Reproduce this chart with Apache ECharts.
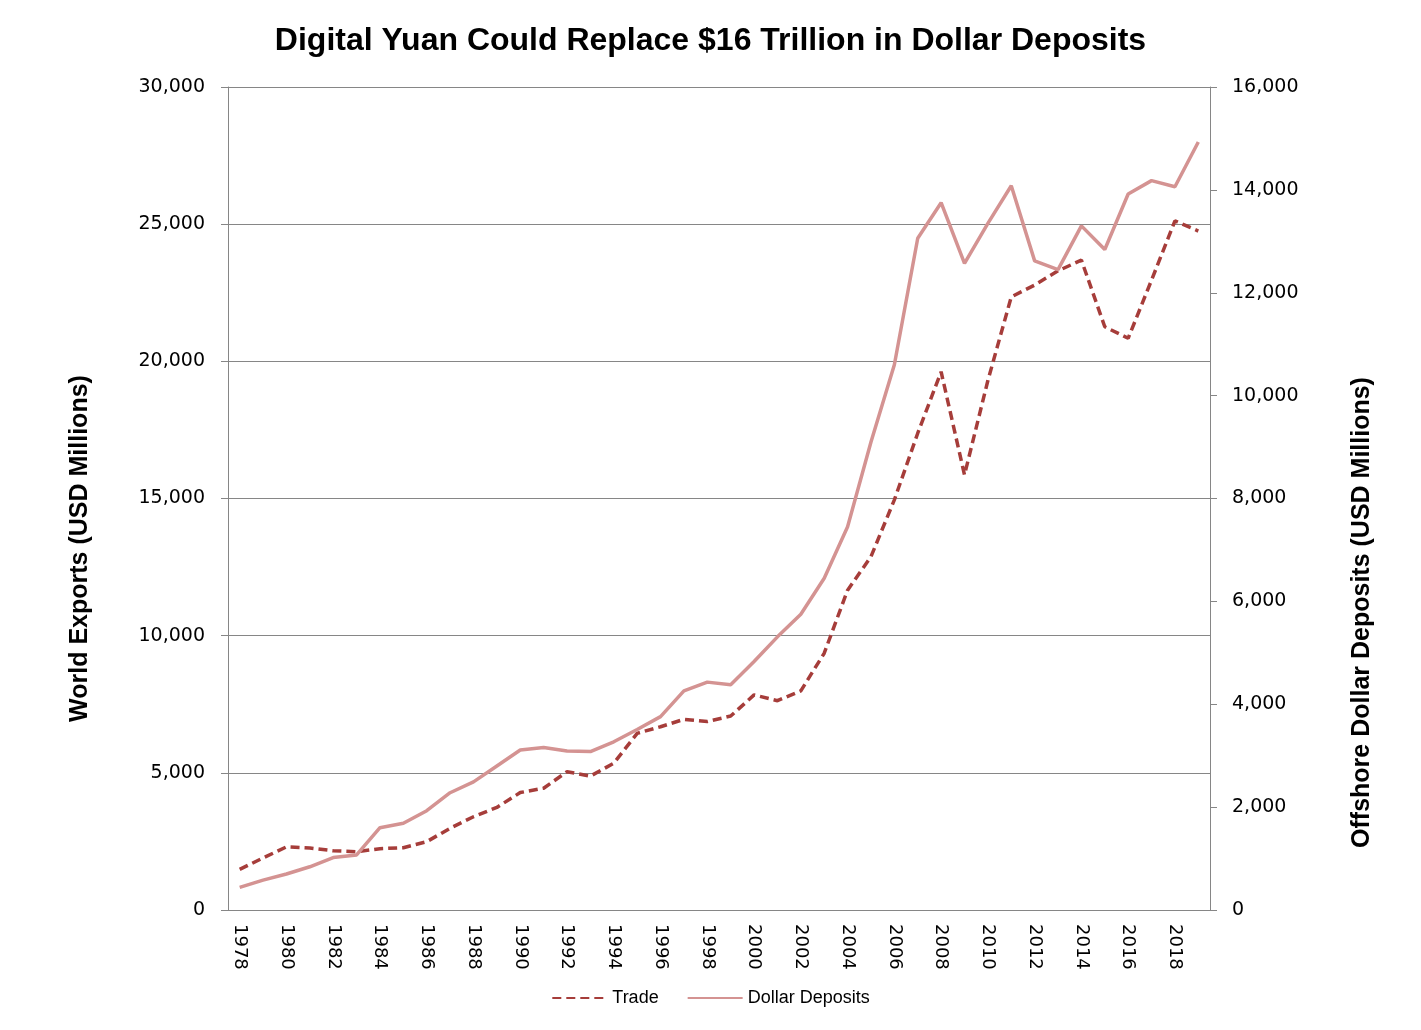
<!DOCTYPE html>
<html>
<head>
<meta charset="utf-8">
<script src="https://cdn.jsdelivr.net/npm/echarts@6/dist/echarts.min.js"></script>
<style>
html,body{margin:0;padding:0;background:#fff;}
#chart{width:1421px;height:1030px;}
</style>
</head>
<body>
<div id="chart"></div>
<script>
const years = ['1978','1979','1980','1981','1982','1983','1984','1985','1986','1987','1988','1989','1990','1991','1992','1993','1994','1995','1996','1997','1998','1999','2000','2001','2002','2003','2004','2005','2006','2007','2008','2009','2010','2011','2012','2013','2014','2015','2016','2017','2018','2019'];
const trade = [1480,1900,2300,2260,2160,2125,2235,2270,2490,2980,3400,3740,4280,4440,5040,4880,5350,6440,6680,6950,6870,7070,7840,7630,7990,9360,11660,12880,14950,17380,19620,15860,19300,22350,22780,23300,23690,21260,20840,22960,25120,24750];
const deposits = [440,580,700,840,1020,1070,1600,1685,1930,2280,2490,2800,3110,3160,3090,3080,3270,3510,3760,4260,4430,4380,4830,5310,5750,6450,7450,9100,10600,13060,13750,12570,13350,14080,12620,12450,13300,12840,13920,14180,14060,14930];
const leftTicks = {min:0, max:30000, interval:5000};
const rightTicks = {min:0, max:16000, interval:2000};

const chart = echarts.init(document.getElementById('chart'));
const tickFont = {fontFamily:'DejaVu Sans', fontSize:19, color:'#000'};
const nameFont = {fontFamily:'Liberation Sans', fontSize:25, fontWeight:'bold', color:'#000'};
const axisGray = '#868686';
chart.setOption({
  animation:false,
  title:{text:'Digital Yuan Could Replace $16 Trillion in Dollar Deposits', left:'center', top:20,
    textStyle:{fontFamily:'Liberation Sans', fontSize:32, fontWeight:'bold', color:'#000'}},
  legend:{bottom:18, left:'center', itemWidth:55, itemHeight:12, itemGap:28,
    itemStyle:{opacity:0},
    textStyle:{fontFamily:'Liberation Sans', fontSize:18, color:'#000'},
    data:['Trade','Dollar Deposits']},
  grid:{left:228, right:211, top:87, bottom:120, containLabel:false},
  xAxis:{type:'category', data:years, boundaryGap:true,
    axisLine:{lineStyle:{color:axisGray}},
    axisTick:{interval:1, length:7, lineStyle:{color:axisGray}},
    axisLabel:Object.assign({interval:1, rotate:-90, margin:14}, tickFont, {fontSize:18})},
  yAxis:[
    {type:'value', min:leftTicks.min, max:leftTicks.max, interval:leftTicks.interval, position:'left',
      name:'World Exports (USD Millions)', nameLocation:'middle', nameGap:135,
      nameTextStyle:Object.assign({padding:[0,100,0,0]}, nameFont),
      axisLine:{show:true, lineStyle:{color:axisGray}},
      axisTick:{show:true, length:7, lineStyle:{color:axisGray}},
      splitLine:{show:true, lineStyle:{color:axisGray, width:1}},
      axisLabel:Object.assign({margin:23, formatter:v=>v.toLocaleString('en-US')}, tickFont)},
    {type:'value', min:rightTicks.min, max:rightTicks.max, interval:rightTicks.interval, position:'right',
      name:'Offshore Dollar Deposits (USD Millions)', nameLocation:'middle', nameGap:140,
      nameTextStyle:Object.assign({padding:[0,228,0,0]}, nameFont),
      axisLine:{show:true, lineStyle:{color:axisGray}},
      axisTick:{show:true, length:7, lineStyle:{color:axisGray}},
      splitLine:{show:false},
      axisLabel:Object.assign({margin:22, formatter:v=>v.toLocaleString('en-US')}, tickFont)}
  ],
  series:[
    {name:'Trade', type:'line', yAxisIndex:0, data:trade, symbol:'none', smooth:false,
      itemStyle:{color:'#A63D3A'},
      lineStyle:{color:'#A63D3A', width:3.5, type:[9,5]}},
    {name:'Dollar Deposits', type:'line', yAxisIndex:1, data:deposits, symbol:'none', smooth:false,
      itemStyle:{color:'#D49392'},
      lineStyle:{color:'#D49392', width:3.5}}
  ]
});
</script>
</body>
</html>
